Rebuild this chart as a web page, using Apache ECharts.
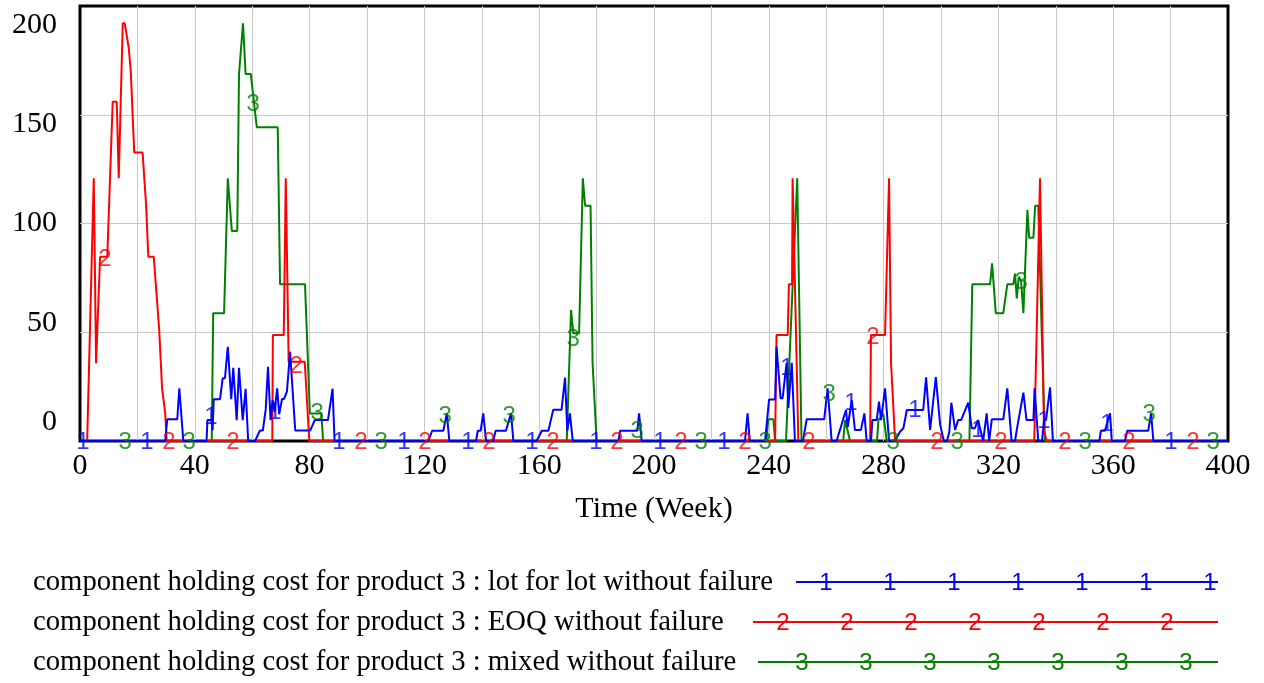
<!DOCTYPE html>
<html><head><meta charset="utf-8">
<script src="https://cdn.jsdelivr.net/npm/echarts@6/dist/echarts.min.js"></script>
<style>html,body{margin:0;padding:0;background:#fff}#c{width:1264px;height:683px}</style>
</head><body><div id="c"></div>
<script>
// ---- data (week, value) ----
const xTickLabels = [0, 40, 80, 120, 160, 200, 240, 280, 320, 360, 400];
const yTickLabels = [0, 50, 100, 150, 200];
const seriesNames = [
  'component holding cost for product 3 : lot for lot without failure',
  'component holding cost for product 3 : EOQ without failure',
  'component holding cost for product 3 : mixed without failure'
];
const seriesColors = ['#0000ff', '#ff0000', '#008000'];

const lotForLot = [
  [0,0],[29.7,0],[30.4,10.4],[33.9,10.4],[34.6,25.2],[36.0,0],[44.1,0],[44.4,10],[46.0,10],[46.2,5],[46.6,20],
  [48.8,20],[49.7,30],[50.5,30],[51.5,45],[52.7,20],[53.4,35],[54.6,10],[55.4,35],[56.7,10],[57.7,25],[58.6,0],
  [61.0,0],[62.7,5],[63.7,5],[64.7,15],[65.5,35.5],[66.4,10],[67.1,19.6],[67.8,14],[68.7,25.2],[69.4,12.8],
  [70.4,20.1],[71.1,20.1],[72.1,23.6],[73.2,42.7],[75.0,5],[80.2,5],[81.8,10],[86.4,10],[88.0,25],[88.7,0],
  [121.4,0],[122.7,4.9],[126.6,4.9],[127.8,13.2],[128.7,0],
  [138.0,0],[138.6,4.9],[139.6,4.9],[140.5,13.2],[141.5,0],
  [144.0,0],[144.8,4.9],[148.4,4.9],[150.2,13.2],[151.0,0],
  [159.1,0],[160.9,4.9],[163.2,4.9],[164.9,15],[167.8,15],[169.0,30.3],[169.8,4.9],[170.7,13.2],[171.7,0],
  [187.6,0],[188.2,4.9],[194.2,4.9],[194.8,13.2],[195.7,0],
  [231.7,0],[232.6,13.2],[233.4,0],
  [238.7,0],[240.1,19.9],[242.2,19.9],[242.7,45.2],[244.1,20.4],[244.8,20.4],[246.2,37.4],[246.8,15.8],[248.0,37.4],[249.1,0],
  [251.9,0],[253.2,10.4],[259.3,10.4],[260.5,25.2],[261.9,0],
  [263.6,0],[264.8,5.3],[266.0,10.9],[266.9,14.8],[267.5,6.7],[268.9,19.6],[270.0,5.3],[272.1,5.3],[273.3,13.2],[274.1,0],
  [275.6,0],[276.1,10],[277.6,10],[278.4,18.8],[279.1,10],[280.5,25.2],[281.9,0],
  [284.0,0],[285.7,4.4],[286.9,6.1],[288.1,14.8],[293.8,14.8],[294.8,30.5],[296.2,5.3],[298.2,30.5],[299.7,7.7],[301.0,0],
  [302.1,0],[302.9,4.4],[303.6,18.3],[304.9,5.3],[306.0,10],[307.0,10],[309.5,18.3],[310.7,6.1],[311.8,6.1],[312.9,10],
  [314.7,0],[315.9,13.2],[316.8,0],[317.7,10.4],[321.7,10.4],[323.1,25.2],[324.6,0],[325.8,0],[326.4,5.3],[328.7,23.1],
  [329.8,10],[332.2,10],[332.6,25.2],[333.9,0],[335.2,0],[335.9,10],[336.6,10],[338.0,25.7],[339.0,0],
  [355.2,0],[355.7,4.9],[357.1,4.9],[358.9,13.2],[359.5,0],
  [364.1,0],[364.9,4.9],[372.2,4.9],[373.2,13.2],[374.0,0],[400,0]
];

const eoq = [
  [0,0],[2.5,0],[4.8,125.6],[5.6,37.2],[7.0,88.1],[9.5,88.1],[11.4,162.2],[12.8,162.2],[13.5,125.6],[14.9,199.7],
  [15.6,199.7],[17.0,187.8],[17.7,176.6],[18.9,137.9],[21.8,137.9],[23.0,113.7],[23.8,88.1],[25.7,88.1],[27.6,53.1],
  [28.6,25.2],[29.7,13.2],[30.2,0],
  [67.0,0],[67.2,50.7],[71.0,50.7],[71.7,125.6],[72.7,37.9],[78.3,37.9],[79.9,0],
  [242.2,0],[242.7,50.7],[246.6,50.7],[247.0,74.9],[248.1,74.9],[248.3,125.6],[250.3,0],
  [275.3,0],[275.6,50.7],[280.5,50.7],[281.9,125.6],[282.6,37.2],[284.0,0],
  [332.5,0],[334.5,125.6],[335.9,5],[336.8,0],[400,0]
];

const mixed = [
  [0,0],[45.9,0],[46.4,61.1],[50.2,61.1],[51.5,125.6],[52.9,100.4],[54.8,100.4],[55.4,175.5],[56.8,199.7],
  [57.7,175.5],[59.5,175.5],[61.6,150],[68.9,150],[69.7,74.9],[78.4,74.9],[80.1,13.2],[84.1,13.2],[84.7,0],
  [169.6,0],[171.1,62.6],[171.9,51.5],[173.9,51.5],[175.2,125.6],[176.0,112.5],[177.9,112.5],[178.6,37.2],[180.0,0],
  [239.2,0],[239.8,10.4],[241.6,10.4],[242.2,0],[246.0,0],[249.9,125.6],[251.4,0],
  [265.9,0],[266.6,10],[268.3,0],[277.7,0],[278.2,10],[279.9,13],[281.1,0],
  [309.9,0],[310.9,74.9],[317.1,74.9],[317.8,84.9],[319.1,61.1],[321.7,61.1],[323.1,74.9],[325.2,74.9],[325.8,80],
  [326.4,68.2],[327.1,78.5],[327.9,76.5],[328.7,61.1],[330.1,110.4],[330.7,97.2],[332.2,97.2],[332.8,112.5],
  [333.9,112.5],[335.1,51.8],[336.2,0],[400,0]
];

// number markers drawn along each line (week, value)
const lotForLotMarks = [[1.0,0],[23.3,0],[45.6,12],[67.9,14],[90.2,0],[112.9,0],[135.2,0],[157.5,0],[179.8,0],
  [202.1,0],[224.4,0],[246.3,35.4],[268.6,18.6],[290.9,15.3],[312.9,5.7],[335.9,10],[357.8,8.6],[380.1,0]];
const eoqMarks = [[8.7,87.5],[31.0,0],[53.3,0],[75.3,36.3],[97.9,0],[120.2,0],[142.5,0],[164.8,0],[187.1,0],
  [209.4,0],[231.7,0],[254.0,0],[276.3,50],[298.6,0],[320.9,0],[343.2,0],[365.5,0],[387.8,0]];
const mixedMarks = [[15.7,0],[38.0,0],[60.3,161.6],[82.6,13.9],[104.9,0],[127.2,12.4],[149.5,12.4],[171.8,49.3],
  [194.1,5.3],[216.4,0],[238.7,0],[261.0,23],[283.3,0],[305.6,0],[327.9,76.5],[350.2,0],[372.5,13.4],[394.8,0]];

// ---- chart ----
const SERIF = '"Liberation Serif", "Times New Roman", serif';
const SANS = '"Liberation Sans", Arial, sans-serif';
const chart = echarts.init(document.getElementById('c'), null, {renderer: 'canvas'});

function lineSeries(name, data, color) {
  return {name, type: 'line', data, showSymbol: false, symbol: 'none', animation: false,
    lineStyle: {color, width: 2}, itemStyle: {color}, silent: true, z: 3};
}
function markSeries(data, label, color) {
  return {type: 'scatter', data, symbol: 'circle', symbolSize: 1, animation: false, silent: true, z: 5,
    itemStyle: {color: 'rgba(0,0,0,0)'},
    label: {show: true, position: 'inside', formatter: label, color, fontFamily: SANS, fontSize: 24, offset: [0, 1]}};
}

// legend (text, sample line with number markers)
const legendRows = [582, 622, 662];
const legendLineStart = [796, 753, 758];
const legendMarkStart = [826, 783, 802];
const legendLineEnd = 1218;
const ctx = document.createElement('canvas').getContext('2d');
ctx.font = '29px ' + SERIF;
const legendScaleX = 740 / ctx.measureText(seriesNames[0]).width;
const graphics = [];
seriesNames.forEach((name, i) => {
  graphics.push({type: 'text', x: 33, y: legendRows[i], scaleX: legendScaleX, silent: true,
    style: {text: name, x: 0, y: 0, fill: '#000', font: '29px ' + SERIF, verticalAlign: 'middle', align: 'left'}});
  graphics.push({type: 'line', silent: true,
    shape: {x1: legendLineStart[i], y1: legendRows[i], x2: legendLineEnd, y2: legendRows[i]},
    style: {stroke: seriesColors[i], lineWidth: 2}});
  for (let k = 0; k < 7; k++) {
    graphics.push({type: 'text', silent: true, x: legendMarkStart[i] + 64 * k, y: legendRows[i] + 1,
      style: {text: String(i + 1), fill: seriesColors[i], font: '24px ' + SANS, align: 'center', verticalAlign: 'middle'}});
  }
});

const gridLine = {show: true, showMinLine: false, showMaxLine: false, lineStyle: {color: '#c8c8c8', width: 1}};

chart.setOption({
  animation: false,
  backgroundColor: '#fff',
  grid: {left: 80, top: 6, width: 1148, height: 435, show: true, borderColor: '#000', borderWidth: 3,
    backgroundColor: 'transparent', containLabel: false},
  xAxis: {
    type: 'value', min: 0, max: 400, interval: 20,
    name: 'Time (Week)', nameLocation: 'middle', nameGap: 53,
    nameTextStyle: {color: '#000', fontFamily: SERIF, fontSize: 30},
    axisLine: {show: false}, axisTick: {show: false},
    splitLine: gridLine,
    axisLabel: {color: '#000', fontFamily: SERIF, fontSize: 30, margin: 10,
      formatter: v => xTickLabels.includes(v) ? String(v) : ''}
  },
  yAxis: [
    {type: 'value', min: 0, max: 208, interval: 52,
      axisLine: {show: false}, axisTick: {show: false}, axisLabel: {show: false},
      splitLine: gridLine},
    {type: 'value', min: -9.6, max: 209.6, position: 'left',
      axisLine: {show: false}, axisTick: {show: false}, splitLine: {show: false},
      axisLabel: {show: true, customValues: yTickLabels, color: '#000', fontFamily: SERIF, fontSize: 30, margin: 23}}
  ],
  series: [
    lineSeries(seriesNames[2], mixed, seriesColors[2]),
    lineSeries(seriesNames[1], eoq, seriesColors[1]),
    lineSeries(seriesNames[0], lotForLot, seriesColors[0]),
    markSeries(mixedMarks, '3', seriesColors[2]),
    markSeries(eoqMarks, '2', seriesColors[1]),
    markSeries(lotForLotMarks, '1', seriesColors[0])
  ],
  graphic: graphics
});
</script></body></html>
